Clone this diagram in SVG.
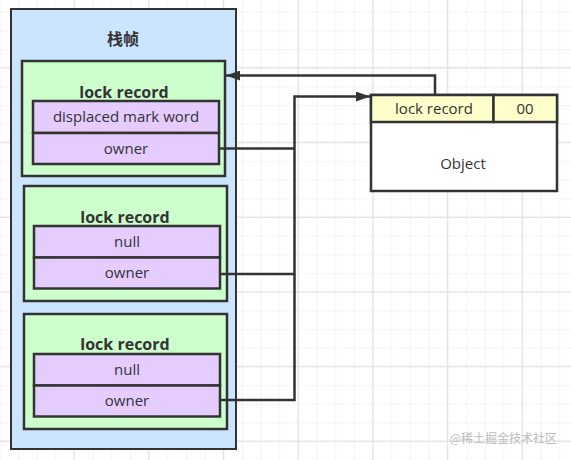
<svg xmlns="http://www.w3.org/2000/svg" width="571" height="460" viewBox="0 0 571 460">
<style>
.frame{fill:#cce5ff;stroke:#333;stroke-width:2}
.lr{fill:#ccffcc;stroke:#333;stroke-width:2.5}
.pp{fill:#e5ccff;stroke:#333;stroke-width:2.5}
.yl{fill:#ffffcc;stroke:#333;stroke-width:2.5}
.ob{fill:#fff;stroke:#333;stroke-width:2.5}
.t{font-family:"Open Sans","Noto Sans CJK SC",sans-serif;font-size:15px;fill:#333;text-anchor:middle}
.b{font-weight:bold;font-size:16px}
.c{fill:none;stroke:#333;stroke-width:2.5}
</style>
<defs>
<pattern id="minor" x="18" y="11.7" width="18.67" height="18.67" patternUnits="userSpaceOnUse">
<path d="M0 0V18.67M0 0H18.67" fill="none" stroke="#ececec" stroke-width="1"/>
</pattern>
<pattern id="major" x="18" y="11.7" width="74.68" height="74.68" patternUnits="userSpaceOnUse">
<path d="M56 0V74.68M0 56H74.68" fill="none" stroke="#dcdcdc" stroke-width="1"/>
</pattern>
<marker id="ah" viewBox="0 0 14 10" refX="14" refY="5" markerWidth="14" markerHeight="10" markerUnits="userSpaceOnUse" orient="auto">
<path d="M0 0L14 5L0 10z" fill="#333"/>
</marker>
</defs>
<rect width="571" height="460" fill="#fff"/>
<rect width="571" height="460" fill="url(#minor)"/>
<rect width="571" height="460" fill="url(#major)"/>

<g id="stack-frame">
<rect class="frame" x="11" y="9" width="225" height="440"/>
<text class="t b" x="123" y="45">栈帧</text>
</g>

<g id="lock-record-1">
<rect class="lr" x="22" y="61" width="203" height="115"/>
<text class="t b" x="124" y="98">lock record</text>
<rect class="pp" x="33" y="101" width="186" height="32"/>
<text class="t" x="126" y="122">displaced mark word</text>
<rect class="pp" x="33" y="133" width="186" height="31"/>
<text class="t" x="126" y="153.5">owner</text>
</g>

<g id="lock-record-2">
<rect class="lr" x="24" y="186" width="203" height="115"/>
<text class="t b" x="125" y="222.5">lock record</text>
<rect class="pp" x="34" y="226" width="186" height="31.5"/>
<text class="t" x="127" y="247">null</text>
<rect class="pp" x="34" y="257.5" width="186" height="31"/>
<text class="t" x="127" y="278">owner</text>
</g>

<g id="lock-record-3">
<rect class="lr" x="24" y="314" width="203" height="115"/>
<text class="t b" x="125" y="350">lock record</text>
<rect class="pp" x="34" y="354" width="186" height="31.5"/>
<text class="t" x="127" y="375">null</text>
<rect class="pp" x="34" y="385.5" width="186" height="31"/>
<text class="t" x="127" y="406">owner</text>
</g>

<g id="object">
<rect class="ob" x="371" y="95" width="186" height="96"/>
<rect class="yl" x="371" y="95" width="122.5" height="27"/>
<rect class="yl" x="493.5" y="95" width="63.5" height="27"/>
<text class="t" x="434" y="114">lock record</text>
<text class="t" x="525" y="114">00</text>
<text class="t" x="463" y="169">Object</text>
</g>

<g id="connectors">
<path class="c" d="M435 95V75.5H226" marker-end="url(#ah)"/>
<path class="c" d="M219 148.5H294.5"/>
<path class="c" d="M220 274H294.5"/>
<path class="c" d="M220 400H294.5V96.5H370" marker-end="url(#ah)"/>
</g>

<text x="557" y="443" font-family="'Noto Sans CJK SC',sans-serif" font-size="12" fill="#bbb" text-anchor="end">@稀土掘金技术社区</text>
</svg>
